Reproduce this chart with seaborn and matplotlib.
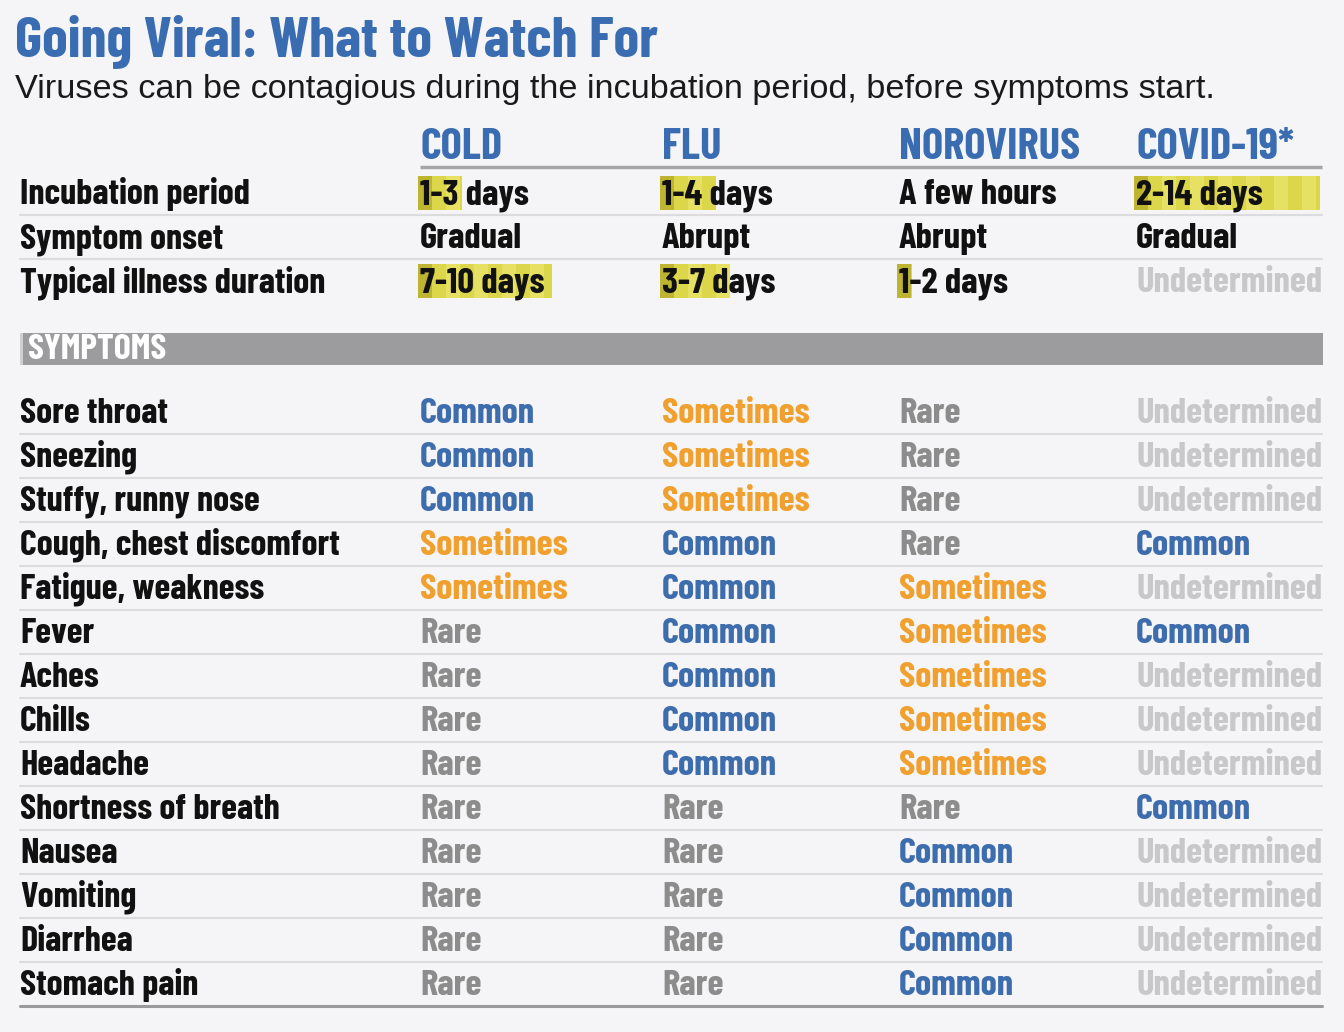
import numpy as np
import pandas as pd
import matplotlib.pyplot as plt
import seaborn as sns
from matplotlib.patches import Rectangle

sns.set_theme(style="white")
plt.rcParams['font.family'] = ['Barlow Condensed', 'DejaVu Sans']

# ---- data ----
viruses = ['COLD', 'FLU', 'NOROVIRUS', 'COVID-19*']
info_rows = ['Incubation period', 'Symptom onset', 'Typical illness duration']
incubation = ['1-3 days', '1-4 days', 'A few hours', '2-14 days']
onset = ['Gradual', 'Abrupt', 'Abrupt', 'Gradual']
duration = ['7-10 days', '3-7 days', '1-2 days', 'Undetermined']

symptoms = ['Sore throat', 'Sneezing', 'Stuffy, runny nose', 'Cough, chest discomfort',
            'Fatigue, weakness', 'Fever', 'Aches', 'Chills', 'Headache',
            'Shortness of breath', 'Nausea', 'Vomiting', 'Diarrhea', 'Stomach pain']
cold = ['Common', 'Common', 'Common', 'Sometimes', 'Sometimes', 'Rare', 'Rare', 'Rare',
        'Rare', 'Rare', 'Rare', 'Rare', 'Rare', 'Rare']
flu = ['Sometimes', 'Sometimes', 'Sometimes', 'Common', 'Common', 'Common', 'Common',
       'Common', 'Common', 'Rare', 'Rare', 'Rare', 'Rare', 'Rare']
norovirus = ['Rare', 'Rare', 'Rare', 'Rare', 'Sometimes', 'Sometimes', 'Sometimes',
             'Sometimes', 'Sometimes', 'Rare', 'Common', 'Common', 'Common', 'Common']
covid = ['Undetermined', 'Undetermined', 'Undetermined', 'Common', 'Undetermined', 'Common',
         'Undetermined', 'Undetermined', 'Undetermined', 'Common', 'Undetermined',
         'Undetermined', 'Undetermined', 'Undetermined']

title = 'Going Viral: What to Watch For'
subtitle = 'Viruses can be contagious during the incubation period, before symptoms start.'

# ---- styles ----
bg = '#f5f5f7'
blue = '#3a6cb2'
level_colors = {'Common': '#3d6dad', 'Sometimes': '#f0a02e', 'Rare': '#8c8c8c',
                'Undetermined': '#c8c8ca'}
col_x = [420, 662, 899, 1136]
label_x = 20
right_x = 1322
info_c0, sym_c0, row_h = 193, 412, 44   # row centres (px)
base_off = 11                            # baseline below row centre
# highlight widths (px) behind info cells: (row, col) -> width
highlights = {(0, 0): 44, (0, 1): 56, (0, 3): 186, (2, 0): 134, (2, 1): 70, (2, 2): 15}

info = pd.DataFrame([incubation, onset, duration], index=info_rows, columns=viruses)
table = pd.DataFrame({'COLD': cold, 'FLU': flu, 'NOROVIRUS': norovirus, 'COVID-19*': covid},
                     index=symptoms)

fig = plt.figure(figsize=(13.44, 10.32), dpi=100, facecolor=bg)
ax = fig.add_axes([0, 0, 1, 1])
ax.set_facecolor(bg)
ax.set_xlim(0, 1344)
ax.set_ylim(1032, 0)
ax.axis('off')
renderer = fig.canvas.get_renderer()


def fit_size(s, target_w, **kw):
    # font size that makes string s about target_w pixels wide
    t = ax.text(0, 0, s, fontsize=20, **kw)
    w = t.get_window_extent(renderer).width
    t.remove()
    return 20 * target_w / w


sub_family = ['Liberation Sans', 'DejaVu Sans']
fs_title = fit_size(title, 643, fontweight='bold')
fs_sub = fit_size(subtitle, 1200, family=sub_family)
fs_label = fit_size('Typical illness duration', 305, fontweight='bold')
fs_head = fit_size('NOROVIRUS', 181, fontweight='bold')
fs_val = fit_size('Undetermined', 186, fontweight='bold')
fs_band = fit_size('SYMPTOMS', 138, fontweight='bold')

# title / subtitle
ax.text(15, 56, title, fontsize=fs_title, fontweight='bold', color=blue, va='baseline')
ax.text(15, 98, subtitle, fontsize=fs_sub, color='#1a1a1a', va='baseline', family=sub_family)

# column headers
for x, name in zip(col_x, viruses):
    ax.text(x, 159, name, fontsize=fs_head, fontweight='bold', color=blue, va='baseline')
ax.plot([col_x[0], right_x], [167, 167], color='#a5a5a8', lw=2.5, solid_capstyle='butt')

# info rows
for i, row in enumerate(info.index):
    y = info_c0 + i * row_h
    if i < len(info.index) - 1:
        ax.plot([label_x, right_x], [y + 22, y + 22], color='#dcdcde', lw=1.5)
    ax.text(label_x, y + base_off, row, fontsize=fs_label, fontweight='bold',
            color='#111111', va='baseline')
    for j, virus in enumerate(info.columns):
        val = info.loc[row, virus]
        w = highlights.get((i, j))
        if w:
            x0 = col_x[j] - 2
            for k, sx in enumerate(np.arange(x0, x0 + w, 14)):
                sw = min(14, x0 + w - sx)
                c = '#bdb531' if k == 0 else ('#dcd64a' if k % 2 else '#e6e063')
                ax.add_patch(Rectangle((sx, y - 17), sw, 34, color=c, lw=0, zorder=1))
        ax.text(col_x[j], y + base_off, val, fontsize=fs_val, fontweight='bold',
                color=level_colors['Undetermined'] if val == 'Undetermined' else '#111111',
                va='baseline', zorder=3)

# symptoms band
ax.add_patch(Rectangle((label_x, 333), right_x + 1 - label_x, 32, color='#9c9c9e', lw=0))
ax.add_patch(Rectangle((label_x, 333), 3, 32, color='#d0d0d2', lw=0))
ax.text(28, 359, 'SYMPTOMS', fontsize=fs_band, fontweight='bold', color='white', va='baseline')

# symptom rows
for i, sym in enumerate(table.index):
    y = sym_c0 + i * row_h
    line_c, line_w = ('#dcdcde', 1.5) if i < len(table.index) - 1 else ('#9a9a9c', 2.2)
    ax.plot([label_x, right_x], [y + 22, y + 22], color=line_c, lw=line_w)
    ax.text(label_x, y + base_off, sym, fontsize=fs_label, fontweight='bold',
            color='#111111', va='baseline')
    for j, virus in enumerate(table.columns):
        val = table.loc[sym, virus]
        ax.text(col_x[j], y + base_off, val, fontsize=fs_val, fontweight='bold',
                color=level_colors[val], va='baseline')

fig.savefig('out.png', dpi=100, facecolor=bg)
